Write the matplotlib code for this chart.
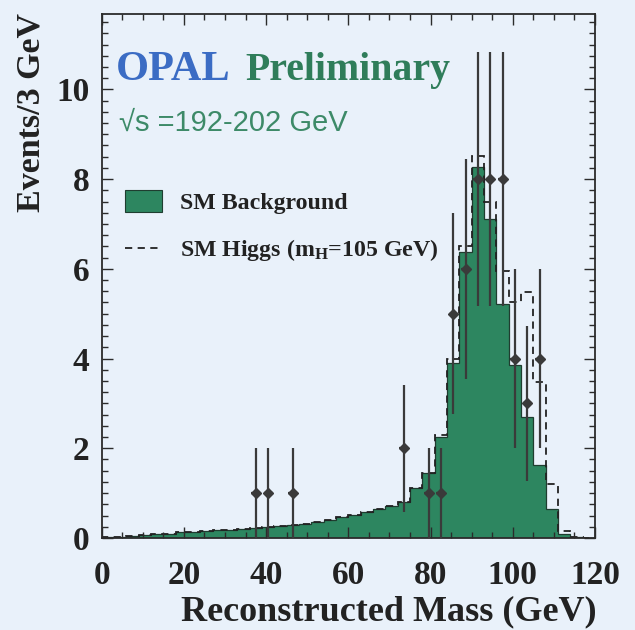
import numpy as np
import matplotlib
matplotlib.use("Agg")
import matplotlib.pyplot as plt
from matplotlib.ticker import MultipleLocator
from matplotlib.patches import Rectangle
from matplotlib.lines import Line2D

# ---------------- data ----------------
bin_width = 3.0
mass_min, mass_max = 0.0, 120.0

# SM background expectation per 3 GeV bin (0-120 GeV)
sm_background = [
    0.02, 0.03, 0.04, 0.06, 0.08, 0.10, 0.13, 0.14, 0.15, 0.17, 0.18, 0.20,   # 0-36
    0.22, 0.24, 0.27, 0.29, 0.32, 0.36, 0.40, 0.46, 0.52, 0.58, 0.64, 0.71,   # 36-72
    0.80, 1.12, 1.44, 2.25, 3.90, 6.37, 8.26, 7.10, 5.22, 3.85, 2.70, 1.63,   # 72-108
    0.65, 0.10, 0.02, 0.00,                                                   # 108-120
]
# SM Higgs (mH = 105 GeV) signal contribution per bin, stacked on background
higgs_signal = [
    0, 0, 0, 0, 0, 0, 0, 0, 0, 0, 0, 0,
    0, 0, 0, 0, 0, 0, 0, 0, 0, 0, 0, 0,
    0.0, 0.0, 0.02, 0.05, 0.08, 0.13, 0.25, 0.40, 0.73, 1.40, 2.78, 1.85,
    0.55, 0.05, 0.0, 0.0,
]
# observed data (bin centres, counts)
data_mass = [37.5, 40.5, 46.5, 73.5, 79.5, 82.5, 85.5, 88.5, 91.5, 94.5, 97.5, 100.5, 103.5, 106.5]
data_counts = [1, 1, 1, 2, 1, 1, 5, 6, 8, 8, 8, 4, 3, 4]

x_ticks = [0, 20, 40, 60, 80, 100, 120]
y_ticks = [0, 2, 4, 6, 8, 10]

# ---------------- style ----------------
BG = "#e9f1fa"
GREEN = "#2d8660"
DARK = "#2b2b2b"
SERIF = ["Liberation Serif", "DejaVu Serif"]
SANS = ["Liberation Sans", "DejaVu Sans"]

plt.rcParams["mathtext.fontset"] = "custom"
plt.rcParams["mathtext.rm"] = "Liberation Serif:bold"
plt.rcParams["mathtext.it"] = "Liberation Serif:bold"
plt.rcParams["mathtext.bf"] = "Liberation Serif:bold"

W, H = 635, 630
fig = plt.figure(figsize=(W / 100, H / 100), dpi=100, facecolor=BG)

ax_l, ax_r, ax_t, ax_b = 101.7, 595.0, 14.0, 538.0
ax = fig.add_axes([ax_l / W, 1 - ax_b / H, (ax_r - ax_l) / W, (ax_b - ax_t) / H])
ax.set_facecolor(BG)

edges = np.arange(mass_min, mass_max + bin_width / 2, bin_width)
bkg = np.array(sm_background)
total = bkg + np.array(higgs_signal)

ax.stairs(bkg, edges, fill=True, color=GREEN, zorder=1)
ax.stairs(bkg, edges, color="#1f3d30", lw=0.9, zorder=1.2)
ax.stairs(total, edges, color="#222222", lw=1.3, ls=(0, (4, 3)), zorder=1.5)

counts = np.array(data_counts, dtype=float)
ax.errorbar(data_mass, counts, yerr=np.sqrt(counts), xerr=1.1, fmt="D", ms=5,
            color="#3a3a3a", mec="#3a3a3a", elinewidth=1.6, capsize=0, zorder=3)

ax.set_xlim(mass_min, mass_max)
ax.set_ylim(0, 11.68)
ax.set_xticks(x_ticks)
ax.set_yticks(y_ticks)
ax.xaxis.set_minor_locator(MultipleLocator(5))
ax.yaxis.set_minor_locator(MultipleLocator(0.25))
ax.tick_params(which="both", direction="in", top=True, right=True, color=DARK, width=1.0)
ax.tick_params(which="major", length=8)
ax.tick_params(which="minor", length=4)
ax.tick_params(axis="y", pad=9)
ax.tick_params(axis="x", pad=16)
for lab in ax.get_xticklabels() + ax.get_yticklabels():
    lab.set_fontfamily(SERIF)
    lab.set_fontweight("bold")
    lab.set_fontsize(24)
    lab.set_color("#222222")
for s in ax.spines.values():
    s.set_color(DARK)
    s.set_linewidth(1.3)

def fx(px):
    return px / W

def fy(py):
    return 1 - py / H

# axis titles (right/top aligned)
fig.text(fx(597), fy(612), "Reconstructed Mass (GeV)", ha="right", va="center",
         fontsize=26, fontweight="bold", family=SERIF, color="#222222")
fig.text(fx(31), fy(13), "Events/3 GeV", ha="center", va="top", rotation=90,
         fontsize=24.5, fontweight="bold", family=SERIF, color="#222222")

# header
fig.text(fx(116), fy(80), "OPAL", ha="left", va="baseline", fontsize=30.5,
         fontweight="bold", family=SERIF, color="#3b6cc4")
fig.text(fx(245), fy(80), "Preliminary", ha="left", va="baseline", fontsize=28.6,
         fontweight="bold", family=SERIF, color="#2f7d5a")
fig.text(fx(119), fy(131), "\u221as =192-202 GeV", ha="left", va="baseline", fontsize=21,
         family=SANS, color="#3d8a68")

# legend
fig.add_artist(Rectangle((fx(125), fy(212)), fx(162) - fx(125), fy(190) - fy(212),
                         transform=fig.transFigure, facecolor=GREEN, edgecolor="#1f3d30", lw=0.8))
fig.text(fx(180), fy(209), "SM Background", ha="left", va="baseline", fontsize=17.2,
         fontweight="bold", family=SERIF, color="#222222")
fig.add_artist(Line2D([fx(125), fx(162)], [fy(248), fy(248)], transform=fig.transFigure,
                      color="#222222", lw=1.3, ls=(0, (4, 3))))
fig.text(fx(180), fy(256), r"SM Higgs (m$_{\mathrm{H}}$=105 GeV)", ha="left", va="baseline",
         fontsize=17.2, fontweight="bold", family=SERIF, color="#222222")

fig.savefig("out.png", dpi=100, facecolor=BG)
